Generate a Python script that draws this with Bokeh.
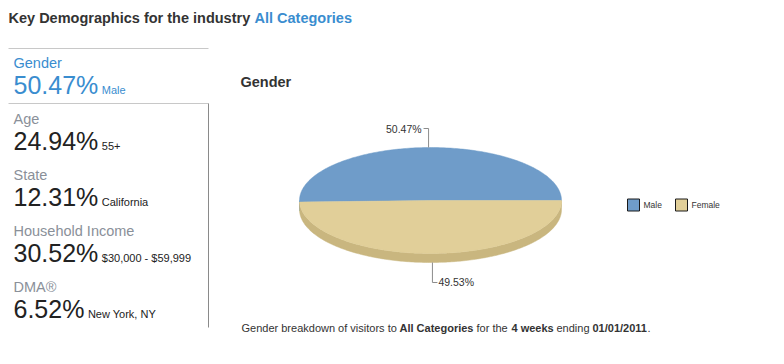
import numpy as np
from bokeh.plotting import figure
from bokeh.models import Range1d
from bokeh.core.properties import value
from bokeh.embed import file_html
from bokeh.resources import INLINE

# ---------------- data ----------------
page_title = "Key Demographics for the industry"
industry = "All Categories"

demo_labels = ["Gender", "Age", "State", "Household Income", "DMA®"]
demo_values = [50.47, 24.94, 12.31, 30.52, 6.52]
demo_groups = ["Male", "55+", "California", "$30,000 - $59,999", "New York, NY"]

chart_title = "Gender"
gender_labels = ["Male", "Female"]
gender_values = [50.47, 49.53]
gender_colors = ["#6f9cc9", "#e1cf99"]
gender_side_colors = ["#5a83ad", "#c9b67f"]

caption_parts = [
    ("Gender breakdown of visitors to", "normal"),
    (industry, "bold"),
    ("for the", "normal"),
    ("4 weeks", "bold"),
    ("ending", "normal"),
    ("01/01/2011", "bold"),
    (".", "normal"),
]
caption_x = [241, 399, 476, 511, 556, 592, 647]

# ---------------- style ----------------
FONT = value("Liberation Sans")
BLUE = "#3a8dcf"
DARK = "#333333"
VAL = "#222222"
GRAY_LABEL = "#8a9099"

p = figure(width=768, height=348, x_range=Range1d(0, 768), y_range=Range1d(-348, 0),
           x_axis_type=None, y_axis_type=None, output_backend="svg",
           toolbar_location=None, min_border=0)
p.outline_line_color = None
p.background_fill_color = "white"
p.border_fill_color = "white"


def txt(x, base, s, size, color, bold=False, align="left"):
    # place text by its baseline (base), using a middle anchor
    yc = base - 0.35 * size
    p.text(x=[x], y=[-yc], text=[s], text_font=FONT, text_font_size=f"{size}px",
           text_color=color, text_font_style="bold" if bold else "normal",
           text_align=align, text_baseline="middle")


# page title
txt(8, 22.5, page_title, 14.5, DARK, bold=True)
txt(254, 22.5, industry, 14.5, BLUE, bold=True)

# left panel lines
p.segment(x0=[8, 8], y0=[-48, -103], x1=[208, 208], y1=[-48, -103],
          line_color="#c8c8c8", line_width=1)
p.segment(x0=[208], y0=[-103], x1=[208], y1=[-327], line_color="#8a8a8a", line_width=1)

# left panel entries
for i, (lab, v, grp) in enumerate(zip(demo_labels, demo_values, demo_groups)):
    base = 93 + 56 * i
    lab_col = BLUE if i == 0 else GRAY_LABEL
    val_col = BLUE if i == 0 else VAL
    s = f"{v:.2f}"
    txt(13, base - 25.5, lab, 14.5, lab_col)
    txt(13, base, s + "%", 25, val_col)
    ndig = len(s) - 1
    w = 25 * (0.556 * ndig + 0.278 + 0.889)
    txt(13 + w + 3.5, base, grp, 11, val_col)

# chart title
txt(240, 87, chart_title, 14.5, DARK, bold=True)

# ---------------- 3D pie ----------------
cx, cy, rx, ry, depth = 430.0, -200.0, 131.0, 53.0, 9.0
vals = np.array(gender_values, dtype=float)
fr = vals / vals.sum()
edges = np.concatenate([[0.0], np.cumsum(fr)]) * 2 * np.pi

side_xs, side_ys, side_cols = [], [], []
top_xs, top_ys = [], []
for i in range(len(vals)):
    a0, a1 = edges[i], edges[i + 1]
    t = np.linspace(a0, a1, 200)
    top_xs.append(list(np.r_[cx, cx + rx * np.cos(t)]))
    top_ys.append(list(np.r_[cy, cy + ry * np.sin(t)]))
    s0, s1 = max(a0, np.pi), min(a1, 2 * np.pi)
    if s1 > s0:
        ts = np.linspace(s0, s1, 200)
        ux = cx + rx * np.cos(ts)
        uy = cy + ry * np.sin(ts)
        side_xs.append(list(np.r_[ux, ux[::-1]]))
        side_ys.append(list(np.r_[uy, (uy - depth)[::-1]]))
        side_cols.append(gender_side_colors[i])

p.patches(xs=side_xs, ys=side_ys, fill_color=side_cols, line_color=side_cols, line_width=0.5)
p.patches(xs=top_xs, ys=top_ys, fill_color=gender_colors, line_color=gender_colors, line_width=0.5)

# leader lines and labels
for i in range(len(vals)):
    mid = 0.5 * (edges[i] + edges[i + 1])
    ex = cx + rx * np.cos(mid)
    ey = cy + ry * np.sin(mid)
    lab = f"{gender_values[i]:.2f}%"
    if np.sin(mid) > 0:
        ly = ey + 19
        p.line(x=[ex, ex, ex - 5], y=[ey, ly, ly], line_color="#8c8c8c", line_width=1)
        p.text(x=[ex - 7], y=[ly], text=[lab], text_font=FONT, text_font_size="10.5px",
               text_color=DARK, text_align="right", text_baseline="middle")
    else:
        ey -= depth
        ly = ey - 20
        p.line(x=[ex, ex, ex + 5], y=[ey, ly, ly], line_color="#8c8c8c", line_width=1)
        p.text(x=[ex + 6], y=[ly], text=[lab], text_font=FONT, text_font_size="10.5px",
               text_color=DARK, text_align="left", text_baseline="middle")

# legend
for i, (lab, col) in enumerate(zip(gender_labels, gender_colors)):
    x0 = 627 + 48 * i
    p.rect(x=[x0 + 6], y=[-204.5], width=12, height=12, fill_color=col,
           line_color="#1a1a1a", line_width=1)
    p.text(x=[x0 + 16], y=[-204], text=[lab], text_font=FONT, text_font_size="8.5px",
           text_color=DARK, text_align="left", text_baseline="middle")

# caption
for (s, style), x in zip(caption_parts, caption_x):
    txt(x, 331, s, 11, DARK, bold=(style == "bold"))

open("out.html", "w").write(file_html(p, INLINE))
